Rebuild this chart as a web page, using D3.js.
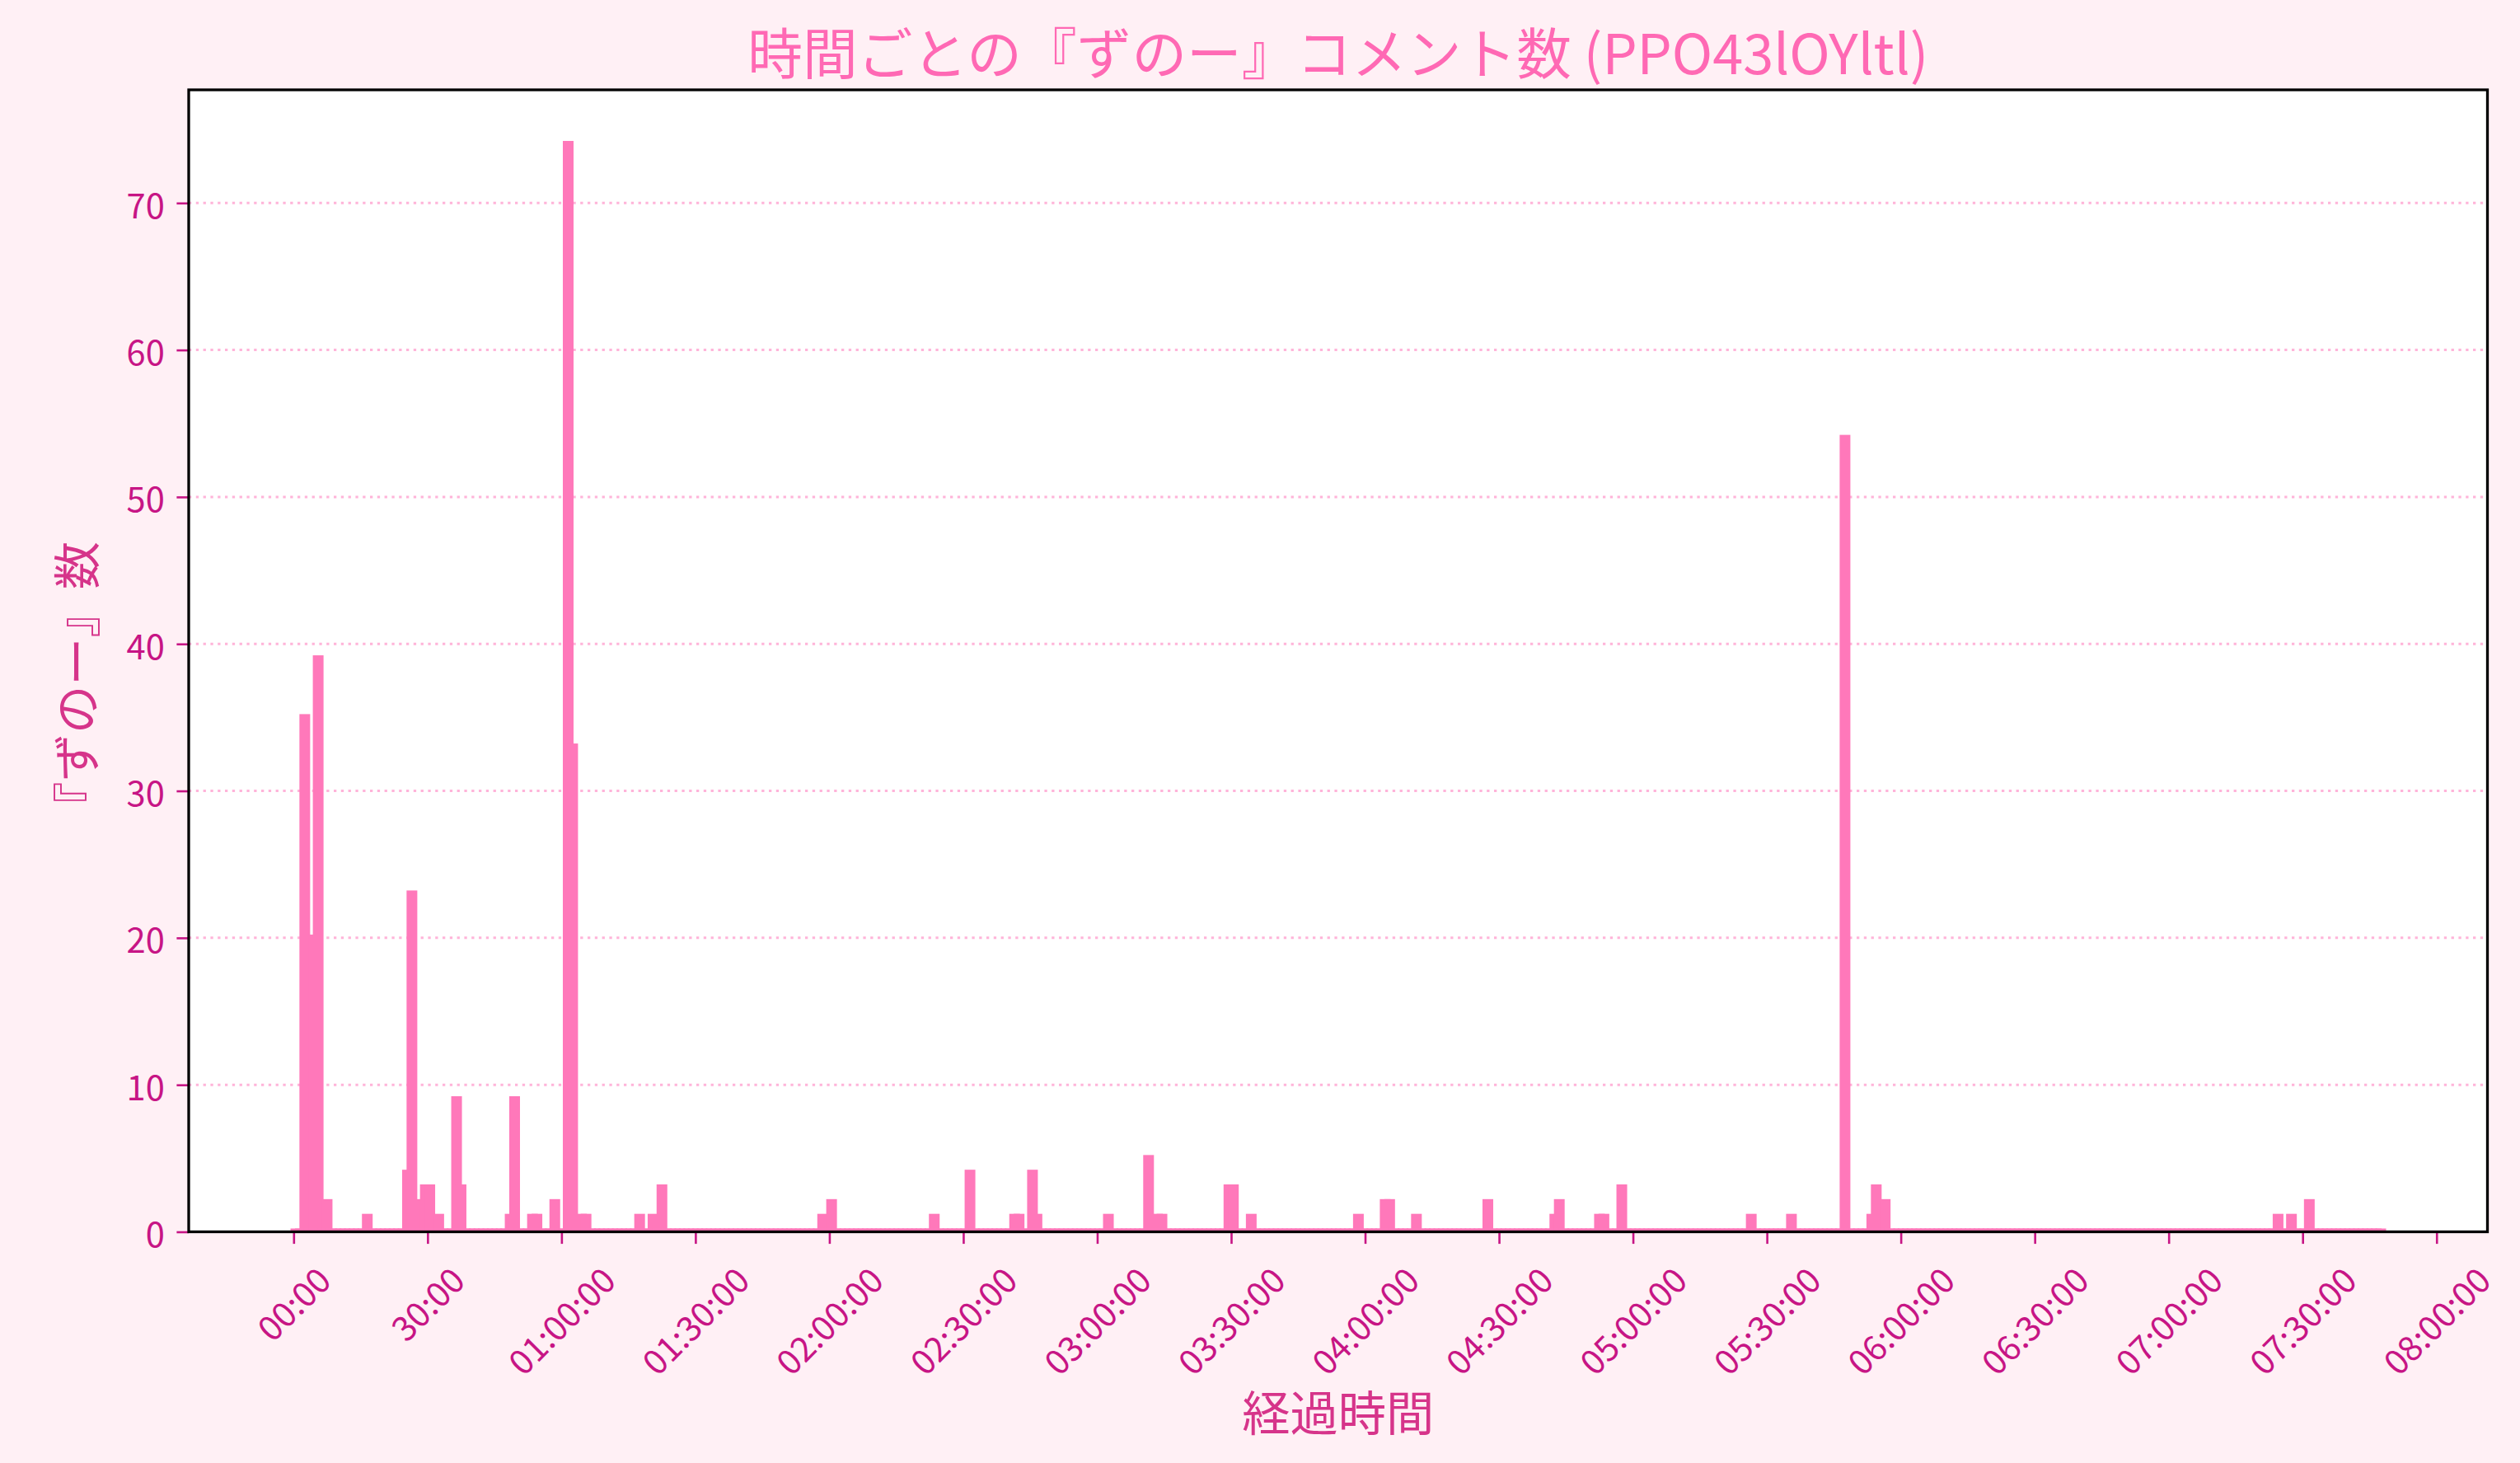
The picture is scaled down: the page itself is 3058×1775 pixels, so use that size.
<!DOCTYPE html>
<html><head><meta charset="utf-8">
<script src="https://cdn.jsdelivr.net/npm/d3@7"></script>
<style>body{margin:0;background:#fff0f5;} svg{display:block;}</style>
</head><body>
<svg id="chart" width="3058" height="1775"></svg>
<script>
// ---- data (counts per minute; minutes not listed have 0 comments) ----
const totalMinutes = 468;
const spikeMinutes = [2,4,5,7,16,25,26,27,29,30,32,36,37,48,49,53,54,58,61,62,64,65,77,80,82,
  118,120,143,151,161,162,165,166,182,191,193,194,209,210,214,238,244,245,251,267,282,283,
  292,293,297,326,335,347,353,354,356,444,447,451];
const spikeCounts = [35,20,39,2,1,4,23,2,3,3,1,9,3,1,9,1,1,2,74,33,1,1,1,1,3,
  1,2,1,4,1,1,4,1,1,5,1,1,3,3,1,1,2,2,1,2,1,2,
  1,1,3,1,1,54,1,3,2,1,1,2];
const xTickMinutes = [0,30,60,90,120,150,180,210,240,270,300,330,360,390,420,450,480];
const xTickLabels = ["00:00","30:00","01:00:00","01:30:00","02:00:00","02:30:00","03:00:00",
  "03:30:00","04:00:00","04:30:00","05:00:00","05:30:00","06:00:00","06:30:00","07:00:00",
  "07:30:00","08:00:00"];
const yTickValues = [0,10,20,30,40,50,60,70];
const titleText = "時間ごとの『ずのー』コメント数 (PPO43lOYltl)";
const xLabelText = "経過時間";
const yLabelText = "『ずのー』数";

// ---- layout / style ----
const FONT = "'Noto Sans CJK JP', 'Noto Sans', sans-serif";
const P = {left:229, right:3018.5, top:109, bottom:1494.5};
const barWidthMin = 2.4;
const barEdge = 4;
const tickColor = "#c71585";
const labelColor = "#d6348a";
const barColor = "#ff78ba";

const counts = new Array(totalMinutes).fill(0);
spikeMinutes.forEach((t, i) => { counts[t] = spikeCounts[i]; });
const data = counts.map((c, i) => ({minute: i, count: c}));

const svg = d3.select("#chart");
svg.append("rect").attr("width",3058).attr("height",1775).attr("fill","#fff0f5");

const x = d3.scaleLinear().domain([-23.5, 491.4]).range([P.left, P.right]);
const y = d3.scaleLinear().domain([0, 77.7]).range([P.bottom, P.top]);

svg.append("rect").attr("x",P.left).attr("y",P.top)
  .attr("width",P.right-P.left).attr("height",P.bottom-P.top).attr("fill","#ffffff");

// grid
svg.append("g").selectAll("line").data(yTickValues.filter(v => v > 0)).join("line")
  .attr("x1",P.left).attr("x2",P.right)
  .attr("y1",d => y(d)).attr("y2",d => y(d))
  .attr("stroke","#ff69b4").attr("stroke-opacity",0.5)
  .attr("stroke-width",3).attr("stroke-dasharray","3.3,5.5");

// bars
const bw = x(barWidthMin) - x(0);
svg.append("g").selectAll("rect").data(data).join("rect")
  .attr("x", d => x(d.minute + 0.5 - barWidthMin/2))
  .attr("width", bw)
  .attr("y", d => y(d.count) - barEdge)
  .attr("height", d => y(0) - y(d.count) + barEdge)
  .attr("fill", barColor);

// axes
const xAxis = d3.axisBottom(x).tickValues(xTickMinutes)
  .tickFormat((d,i) => xTickLabels[i]).tickSize(14.6).tickPadding(14.6);
const gx = svg.append("g").attr("transform",`translate(0,${P.bottom})`).call(xAxis);
gx.select(".domain").remove();
gx.selectAll(".tick line").attr("stroke",tickColor).attr("stroke-width",2.6);
gx.selectAll(".tick text")
  .attr("fill",tickColor).style("font-family",FONT).style("font-size","41.7px")
  .attr("text-anchor","middle").attr("dominant-baseline","central")
  .attr("y",null).attr("dy",null)
  .each(function(){
    const L = this.getComputedTextLength();
    const h = 0.73*41.7;
    const V = (L + h)/Math.SQRT2;
    const top = 1533 - P.bottom;
    d3.select(this).attr("transform",`translate(-2,${top + V/2}) rotate(-45)`);
  });

const yAxis = d3.axisLeft(y).tickValues(yTickValues).tickSize(14.6).tickPadding(14.6);
const gy = svg.append("g").attr("transform",`translate(${P.left},0)`).call(yAxis);
gy.select(".domain").remove();
gy.selectAll(".tick line").attr("stroke",tickColor).attr("stroke-width",2.6);
gy.selectAll(".tick text").attr("fill",tickColor).style("font-family",FONT)
  .style("font-size","41.7px").attr("dominant-baseline","central").attr("dy",null);

// frame
svg.append("rect").attr("x",P.left).attr("y",P.top)
  .attr("width",P.right-P.left).attr("height",P.bottom-P.top)
  .attr("fill","none").attr("stroke","#000").attr("stroke-width",3.3);

// texts
const cx = (P.left + P.right)/2;
svg.append("text").attr("x",cx).attr("y",61).attr("text-anchor","middle")
  .attr("dominant-baseline","central").attr("fill","#ff69b4")
  .style("font-family",FONT).style("font-size","66.7px").text(titleText);
svg.append("text").attr("x",cx).attr("y",1710).attr("text-anchor","middle")
  .attr("dominant-baseline","central").attr("fill",labelColor)
  .style("font-family",FONT).style("font-size","58.3px").text(xLabelText);
svg.append("text").attr("transform",`translate(89,${(P.top+P.bottom)/2 + 30}) rotate(-90)`)
  .attr("text-anchor","middle").attr("dominant-baseline","central").attr("fill",labelColor)
  .style("font-family",FONT).style("font-size","58.3px").text(yLabelText);
</script>
</body></html>
